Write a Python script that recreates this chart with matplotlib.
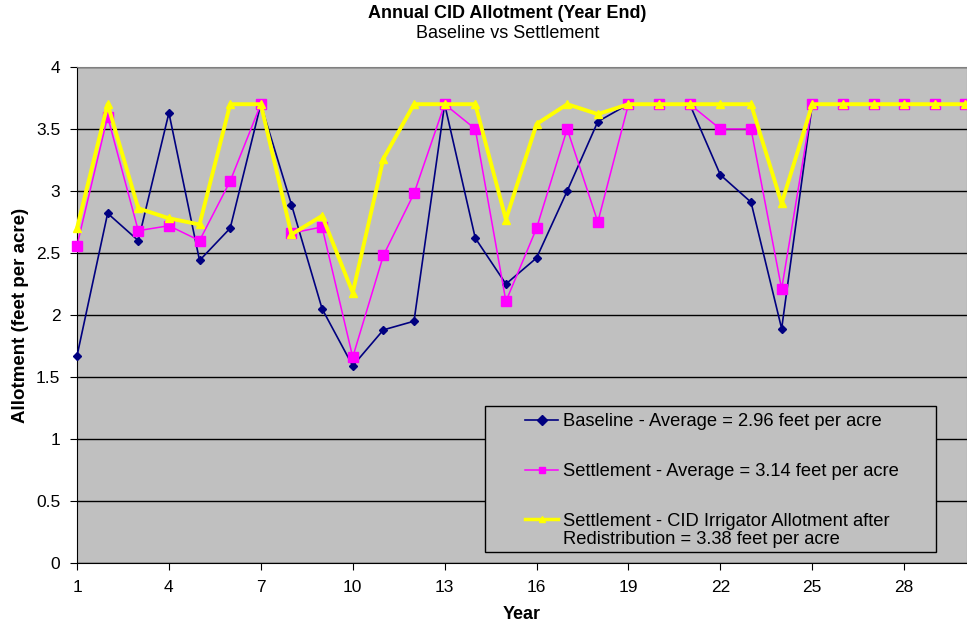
import numpy as np
import matplotlib.pyplot as plt
from matplotlib.patches import Rectangle

plt.rcParams['font.family'] = ['Liberation Sans', 'DejaVu Sans']

years = list(range(1, 31))

baseline = [1.67, 2.82, 2.60, 3.63, 2.44, 2.70, 3.70, 2.89, 2.05, 1.59,
            1.88, 1.95, 3.70, 2.62, 2.25, 2.46, 3.00, 3.56, 3.70, 3.70,
            3.70, 3.13, 2.91, 1.89, 3.70, 3.70, 3.70, 3.70, 3.70, 3.70]

settlement = [2.56, 3.60, 2.68, 2.72, 2.60, 3.08, 3.70, 2.66, 2.71, 1.66,
              2.48, 2.98, 3.70, 3.50, 2.11, 2.70, 3.50, 2.75, 3.70, 3.70,
              3.70, 3.50, 3.50, 2.21, 3.70, 3.70, 3.70, 3.70, 3.70, 3.70]

redistributed = [2.70, 3.70, 2.86, 2.78, 2.73, 3.70, 3.70, 2.65, 2.80, 2.18,
                 3.26, 3.70, 3.70, 3.70, 2.77, 3.54, 3.70, 3.62, 3.70, 3.70,
                 3.70, 3.70, 3.70, 2.90, 3.70, 3.70, 3.70, 3.70, 3.70, 3.70]

labels = ["Baseline - Average = 2.96 feet per acre",
          "Settlement - Average = 3.14 feet per acre",
          "Settlement - CID Irrigator Allotment after\nRedistribution = 3.38 feet per acre"]

fig = plt.figure(figsize=(9.67, 6.27), dpi=100)
ax = fig.add_axes([77 / 967, 64 / 627, 890 / 967, 496 / 627])
ax.set_facecolor('#C0C0C0')

ax.plot(years, baseline, color='#000080', lw=1.2, marker='D', ms=4.5,
        label=labels[0], clip_on=False, zorder=3)
ax.plot(years, settlement, color='#FF00FF', lw=1.1, marker='s', ms=7,
        label=labels[1], clip_on=False, zorder=4)
ax.plot(years, redistributed, color='#FFFF00', lw=2.8, marker='^', ms=6,
        label=labels[2], clip_on=False, zorder=5)

ax.set_xlim(1, 30.05)
ax.set_ylim(0, 4)
ax.set_xticks(np.arange(1, 30, 3))
ax.set_yticks(np.arange(0, 4.01, 0.5))
ax.set_yticklabels(['0', '0.5', '1', '1.5', '2', '2.5', '3', '3.5', '4'])
ax.yaxis.grid(True, color='black', lw=1)
ax.set_axisbelow(True)
ax.tick_params(labelsize=12.5, direction='out', length=5, color='black', pad=7)

for side in ['top', 'right']:
    ax.spines[side].set_color('#808080')
ax.spines['left'].set_color('black')
ax.spines['bottom'].set_color('black')

ax.set_xlabel('Year', fontsize=13, fontweight='bold')
ax.set_ylabel('Allotment (feet per acre)', fontsize=13.5, fontweight='bold')
ax.xaxis.set_label_coords(0.5, -0.087)
ax.yaxis.set_label_coords(-0.054, 0.5)

fig.text(0.525, 1 - 13 / 627, 'Annual CID Allotment (Year End)', ha='center',
         va='center', fontsize=13, fontweight='bold')
fig.text(0.525, 1 - 33 / 627, 'Baseline vs Settlement', ha='center',
         va='center', fontsize=13)

# legend box drawn separately, entries indented like the original
box = Rectangle((408 / 890, 11 / 496), 451 / 890, 146 / 496,
                transform=ax.transAxes, facecolor='#C0C0C0',
                edgecolor='black', lw=1, zorder=6)
ax.add_patch(box)

leg = ax.legend(loc='upper left',
                bbox_to_anchor=((525 - 77) / 890, (563 - 413) / 496),
                fontsize=13.2, labelspacing=1.8, frameon=False,
                handlelength=1.8, handletextpad=0.25, borderpad=0,
                borderaxespad=0)
leg.set_zorder(7)
for t in leg.get_texts():
    t.set_linespacing(1.05)
for h in leg.legend_handles:
    h.set_markersize(5)
leg.legend_handles[2].set_linewidth(2.5)
# put the yellow handle beside the first line of its two-line label
for col in leg._legend_handle_box.get_children():
    col.get_children()[2].align = 'top'

fig.savefig('out.png', dpi=100)
